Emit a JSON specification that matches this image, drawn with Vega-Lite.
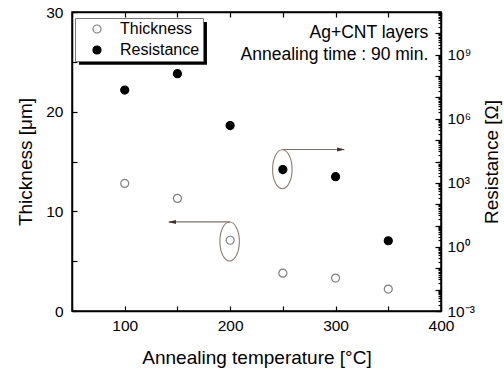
{
  "$schema": "https://vega.github.io/schema/vega-lite/v6.json",
  "width": 369,
  "height": 299,
  "autosize": {"type": "none"},
  "padding": {"left": 72, "top": 12, "right": 63, "bottom": 61},
  "background": "white",
  "config": {
    "font": "Liberation Sans",
    "view": {"stroke": "black", "strokeWidth": 1.5},
    "axis": {
      "domainColor": "black", "domainWidth": 1.5, "tickColor": "black", "tickWidth": 1.2,
      "labelColor": "black", "titleColor": "black", "labelFontSize": 15.5, "titleFontSize": 19,
      "titleFontWeight": "normal", "grid": false, "labelFont": "Liberation Sans", "titleFont": "Liberation Sans",
      "labelFlush": false, "labelOverlap": false, "labelBound": false
    }
  },
  "datasets": {
    "measurements": [
      {"temperature": 100, "series": "Thickness", "value": 12.8},
      {"temperature": 150, "series": "Thickness", "value": 11.3},
      {"temperature": 200, "series": "Thickness", "value": 7.1},
      {"temperature": 250, "series": "Thickness", "value": 3.8},
      {"temperature": 300, "series": "Thickness", "value": 3.3},
      {"temperature": 350, "series": "Thickness", "value": 2.2},
      {"temperature": 100, "series": "Resistance", "value": 22000000},
      {"temperature": 150, "series": "Resistance", "value": 130000000},
      {"temperature": 200, "series": "Resistance", "value": 480000},
      {"temperature": 250, "series": "Resistance", "value": 4200},
      {"temperature": 300, "series": "Resistance", "value": 1950},
      {"temperature": 350, "series": "Resistance", "value": 1.95}
    ]
  },
  "layer": [
    {
      "data": {"values": [{}]},
      "mark": {"type": "rect", "color": "black", "opacity": 1},
      "encoding": {
        "x": {"datum": 56.6, "type": "quantitative", "axis": null},
        "x2": {"datum": 178.0},
        "y": {"datum": 29.0, "type": "quantitative", "axis": null, "scale": {"domain": [0, 30], "nice": false, "zero": false}},
        "y2": {"datum": 24.7}
      }
    },
    {
      "data": {"name": "measurements"},
      "transform": [{"filter": "datum.series === 'Thickness'"}],
      "mark": {"type": "point", "shape": "circle", "size": 64, "strokeWidth": 1.2, "filled": true, "opacity": 1},
      "encoding": {
        "x": {
          "field": "temperature", "type": "quantitative",
          "scale": {"domain": [50, 400], "nice": false, "zero": false},
          "axis": {
            "orient": "bottom", "values": [50, 100, 150, 200, 250, 300, 350, 400],
            "labelExpr": "datum.value % 100 === 0 ? datum.label : ''",
            "tickSize": -5, "labelPadding": 12, "title": "Annealing temperature [°C]", "titlePadding": 15
          }
        },
        "y": {
          "field": "value", "type": "quantitative",
          "scale": {"domain": [0, 30], "nice": false, "zero": false},
          "axis": {
            "orient": "left", "values": [0, 5, 10, 15, 20, 25, 30],
            "labelExpr": "datum.value % 10 === 0 ? datum.label : ''",
            "tickSize": -5, "labelPadding": 14, "title": "Thickness [μm]", "titlePadding": 10
          }
        },
        "fill": {
          "field": "series", "type": "nominal",
          "scale": {"domain": ["Thickness", "Resistance"], "range": ["white", "black"]},
          "legend": {"title": null, "orient": "none", "legendX": 3, "legendY": 6, "symbolType": "circle", "symbolSize": 64, "labelFontSize": 16, "strokeColor": "#777", "padding": 3, "symbolOffset": 11, "labelOffset": 15, "rowPadding": 5, "fillColor": "white", "symbolStrokeWidth": 1.2, "labelColor": "black"}
        },
        "stroke": {
          "field": "series", "type": "nominal",
          "scale": {"domain": ["Thickness", "Resistance"], "range": ["#808080", "black"]},
          "legend": {"title": null, "orient": "none", "legendX": 3, "legendY": 6, "symbolType": "circle", "symbolSize": 64, "labelFontSize": 16, "strokeColor": "#777", "padding": 3, "symbolOffset": 11, "labelOffset": 15, "rowPadding": 5, "fillColor": "white", "symbolStrokeWidth": 1.2, "labelColor": "black"}
        }
      }
    },
    {
      "data": {"name": "measurements"},
      "transform": [{"filter": "datum.series === 'Resistance'"}],
      "mark": {"type": "point", "shape": "circle", "size": 64, "strokeWidth": 1.2, "filled": true, "opacity": 1},
      "encoding": {
        "x": {
          "field": "temperature", "type": "quantitative",
          "axis": {"orient": "top", "values": [50, 100, 150, 200, 250, 300, 350, 400], "labels": false, "tickSize": -5, "title": null}
        },
        "y": {
          "field": "value", "type": "quantitative",
          "scale": {"type": "log", "domain": [0.001, 100000000000], "nice": false},
          "axis": {
            "orient": "right",
            "values": [0.001,0.002,0.003,0.004,0.005,0.006,0.007,0.008,0.009,
                       0.01,0.02,0.03,0.04,0.05,0.06,0.07,0.08,0.09,
                       0.1,0.2,0.3,0.4,0.5,0.6,0.7,0.8,0.9,
                       1,2,3,4,5,6,7,8,9,
                       10,20,30,40,50,60,70,80,90,
                       100,200,300,400,500,600,700,800,900,
                       1000,2000,3000,4000,5000,6000,7000,8000,9000,
                       1e4,2e4,3e4,4e4,5e4,6e4,7e4,8e4,9e4,
                       1e5,2e5,3e5,4e5,5e5,6e5,7e5,8e5,9e5,
                       1e6,2e6,3e6,4e6,5e6,6e6,7e6,8e6,9e6,
                       1e7,2e7,3e7,4e7,5e7,6e7,7e7,8e7,9e7,
                       1e8,2e8,3e8,4e8,5e8,6e8,7e8,8e8,9e8,
                       1e9,2e9,3e9,4e9,5e9,6e9,7e9,8e9,9e9,
                       1e10,2e10,3e10,4e10,5e10,6e10,7e10,8e10,9e10,
                       1e11],
            "labelExpr": "abs(log(datum.value)/LN10 - round(log(datum.value)/LN10)) > 1e-6 ? '' : round(log(datum.value)/LN10) === -3 ? '10⁻³' : round(log(datum.value)/LN10) === 0 ? '10⁰' : round(log(datum.value)/LN10) === 3 ? '10³' : round(log(datum.value)/LN10) === 6 ? '10⁶' : round(log(datum.value)/LN10) === 9 ? '10⁹' : ''",
            "tickSize": -3,
            "labelPadding": 9,
            "title": "Resistance [Ω]",
            "titleAngle": 270,
            "titleBaseline": "top",
            "titlePadding": 8
          }
        },
        "fill": {"field": "series", "type": "nominal"},
        "stroke": {"field": "series", "type": "nominal"}
      }
    },
    {
      "data": {"name": "measurements"},
      "transform": [{"filter": "datum.series === 'Resistance'"}],
      "mark": {"type": "point", "opacity": 0},
      "encoding": {
        "x": {"field": "temperature", "type": "quantitative", "axis": null},
        "y": {
          "field": "value", "type": "quantitative",
          "scale": {"type": "log", "domain": [0.001, 100000000000], "nice": false},
          "axis": {
            "orient": "right", "values": [0.001, 0.01, 0.1, 1, 10, 100, 1000, 1e4, 1e5, 1e6, 1e7, 1e8, 1e9, 1e10, 1e11],
            "labels": false, "domain": false, "tickSize": -6, "title": null
          }
        }
      }
    },
    {
      "data": {"values": [{}]},
      "mark": {"type": "point", "shape": "M0,-1A0.5,1 0 1,1 0,1A0.5,1 0 1,1 0,-1Z", "size": 1521, "filled": false, "stroke": "#8a7d76", "strokeWidth": 1.1, "opacity": 1},
      "encoding": {
        "x": {"datum": 199.5, "type": "quantitative", "axis": null},
        "y": {"datum": 6.98, "type": "quantitative", "axis": null, "scale": {"domain": [0, 30], "nice": false, "zero": false}}
      }
    },
    {
      "data": {"values": [{}]},
      "mark": {"type": "point", "shape": "M0,-1A0.5,1 0 1,1 0,1A0.5,1 0 1,1 0,-1Z", "size": 1521, "filled": false, "stroke": "#8a7d76", "strokeWidth": 1.1, "opacity": 1},
      "encoding": {
        "x": {"datum": 249.5, "type": "quantitative", "axis": null},
        "y": {"datum": 14.22, "type": "quantitative", "axis": null, "scale": {"domain": [0, 30], "nice": false, "zero": false}}
      }
    },
    {
      "data": {"values": [{}]},
      "mark": {"type": "rule", "color": "#7d716b", "strokeWidth": 1.1},
      "encoding": {
        "x": {"datum": 200, "type": "quantitative", "axis": null},
        "x2": {"datum": 142},
        "y": {"datum": 8.94, "type": "quantitative", "axis": null, "scale": {"domain": [0, 30], "nice": false, "zero": false}}
      }
    },
    {
      "data": {"values": [{}]},
      "mark": {"type": "rule", "color": "#7d716b", "strokeWidth": 1.1},
      "encoding": {
        "x": {"datum": 250, "type": "quantitative", "axis": null},
        "x2": {"datum": 308},
        "y": {"datum": 16.2, "type": "quantitative", "axis": null, "scale": {"domain": [0, 30], "nice": false, "zero": false}}
      }
    },
    {
      "data": {"values": [{}]},
      "mark": {"type": "point", "shape": "M0,0L2,-0.5L2,0.5Z", "size": 64, "filled": true, "color": "#3a3330", "opacity": 1},
      "encoding": {
        "x": {"datum": 141, "type": "quantitative", "axis": null},
        "y": {"datum": 8.94, "type": "quantitative", "axis": null, "scale": {"domain": [0, 30], "nice": false, "zero": false}}
      }
    },
    {
      "data": {"values": [{}]},
      "mark": {"type": "point", "shape": "M0,0L-2,-0.5L-2,0.5Z", "size": 64, "filled": true, "color": "#3a3330", "opacity": 1},
      "encoding": {
        "x": {"datum": 309, "type": "quantitative", "axis": null},
        "y": {"datum": 16.2, "type": "quantitative", "axis": null, "scale": {"domain": [0, 30], "nice": false, "zero": false}}
      }
    },
    {
      "data": {"values": [{}]},
      "mark": {"type": "text", "align": "right", "baseline": "middle", "fontSize": 17.5, "font": "Liberation Sans", "color": "black"},
      "encoding": {
        "x": {"datum": 388, "type": "quantitative", "axis": null},
        "y": {"datum": 27.9, "type": "quantitative", "axis": null, "scale": {"domain": [0, 30], "nice": false, "zero": false}},
        "text": {"value": "Ag+CNT layers"}
      }
    },
    {
      "data": {"values": [{}]},
      "mark": {"type": "text", "align": "right", "baseline": "middle", "fontSize": 17.5, "font": "Liberation Sans", "color": "black"},
      "encoding": {
        "x": {"datum": 388, "type": "quantitative", "axis": null},
        "y": {"datum": 25.7, "type": "quantitative", "axis": null, "scale": {"domain": [0, 30], "nice": false, "zero": false}},
        "text": {"value": "Annealing time : 90 min."}
      }
    }
  ],
  "resolve": {"scale": {"y": "independent"}, "axis": {"x": "independent"}}
}
